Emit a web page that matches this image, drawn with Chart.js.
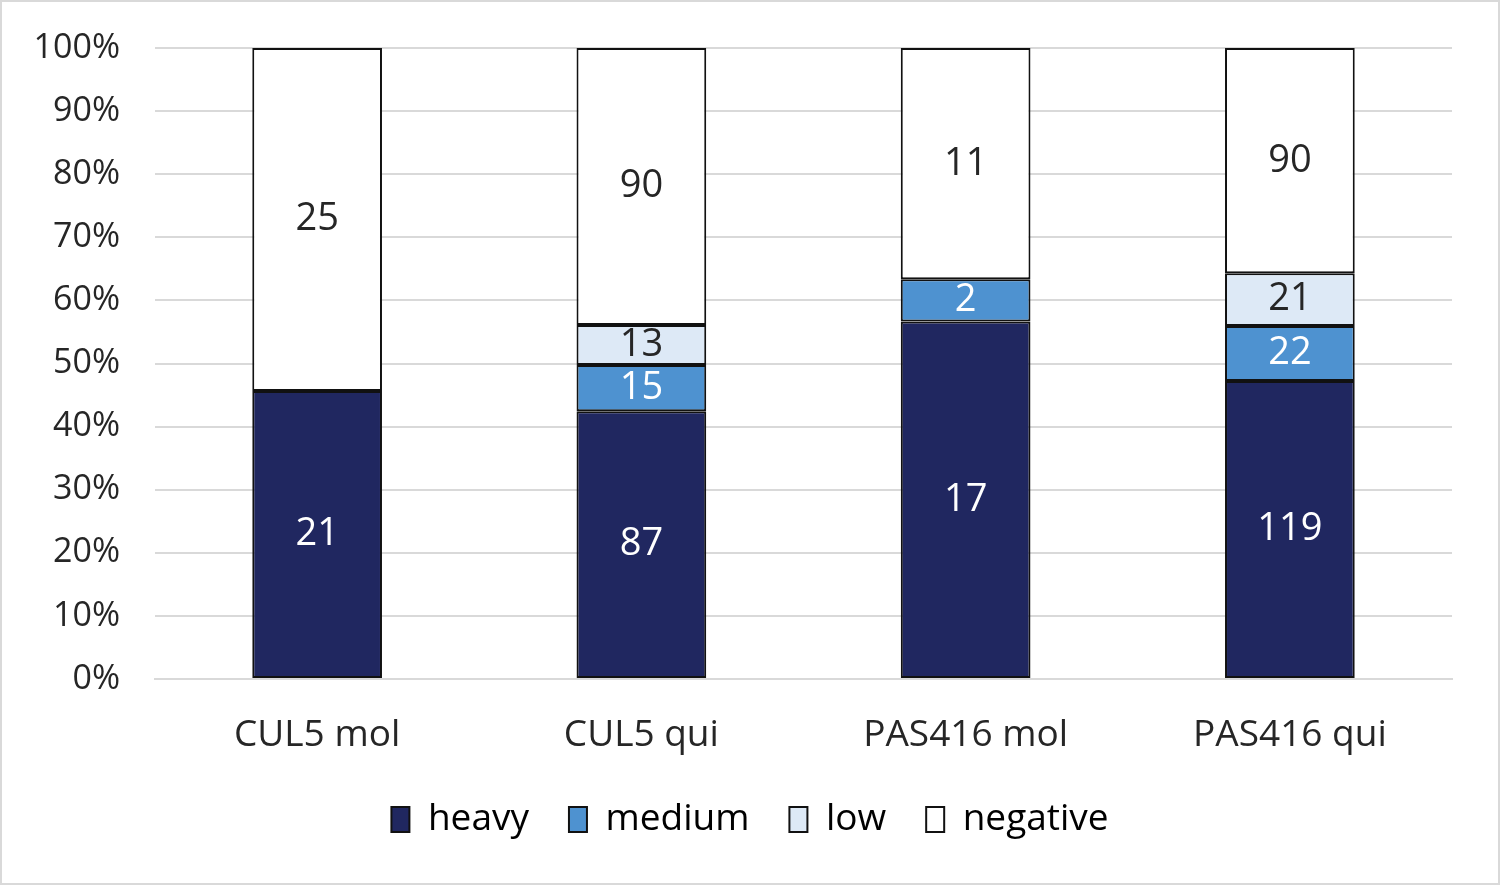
<!DOCTYPE html>
<html>
<head>
<meta charset="utf-8">
<script src="https://cdn.jsdelivr.net/npm/chart.js@4.4.0/dist/chart.umd.min.js"></script>
<style>
  html, body { margin: 0; padding: 0; background: #fff; }
  #wrap { position: relative; width: 1500px; height: 885px; box-sizing: border-box; border: 2px solid #d9d9d9; }
</style>
</head>
<body>
<div id="wrap"><canvas id="chart"></canvas></div>
<script>
// 类别与计数
const categories = ['CUL5 mol', 'CUL5 qui', 'PAS416 mol', 'PAS416 qui'];
const heavy = [21, 87, 17, 119];
const medium = [0, 15, 2, 22];
const low = [0, 13, 0, 21];
const negative = [25, 90, 11, 90];
const yTicks = [0, 10, 20, 30, 40, 50, 60, 70, 80, 90, 100];

const FONT = '"Open Sans", "DejaVu Sans", sans-serif';

const totals = categories.map((c, i) => heavy[i] + medium[i] + low[i] + negative[i]);

function toPercent(counts) {
    return counts.map((v, i) => v === 0 ? null : v / totals[i] * 100);
}

const seriesDefs = [
    { label: 'heavy', counts: heavy, color: '#202760', text: '#ffffff' },
    { label: 'medium', counts: medium, color: '#4e92d0', text: '#ffffff' },
    { label: 'low', counts: low, color: '#dde9f6', text: '#262626' },
    { label: 'negative', counts: negative, color: '#ffffff', text: '#262626' }
];

/**
 * 在每段柱子中心画计数标签
 */
const segmentLabels = {
    id: 'segmentLabels',
    afterDatasetsDraw(chart) {
        const ctx = chart.ctx;
        ctx.save();
        ctx.font = '38px ' + FONT;
        ctx.textAlign = 'center';
        ctx.textBaseline = 'middle';
        chart.data.datasets.forEach((ds, di) => {
            const meta = chart.getDatasetMeta(di);
            meta.data.forEach((bar, i) => {
                const count = seriesDefs[di].counts[i];
                if (!count) return;
                const mid = (bar.y + bar.base) / 2;
                ctx.fillStyle = seriesDefs[di].text;
                ctx.fillText(String(count), bar.x, mid);
            });
        });
        ctx.restore();
    }
};

/**
 * 图例居中于整个画布
 */
const centerLegend = {
    id: 'centerLegend',
    afterLayout(chart) {
        const lg = chart.legend;
        if (!lg) return;
        const shift = 23;
        lg.left += shift;
        lg.right += shift;
    }
};

const chart = new Chart(document.getElementById('chart'), {
    type: 'bar',
    data: {
        labels: categories,
        datasets: seriesDefs.map(s => ({
            label: s.label,
            data: toPercent(s.counts),
            backgroundColor: s.color,
            borderColor: '#111111',
            borderWidth: 2,
            borderSkipped: false,
            barPercentage: 0.4,
            categoryPercentage: 1.0
        }))
    },
    options: {
        responsive: true,
        maintainAspectRatio: false,
        animation: false,
        layout: { padding: { top: 46, right: 46, bottom: 35, left: 0 } },
        plugins: {
            legend: {
                position: 'bottom',
                labels: {
                    color: '#000000',
                    font: { family: FONT, size: 37 },
                    boxWidth: 18,
                    boxHeight: 25,
                    padding: 40
                }
            },
            tooltip: { enabled: false }
        },
        scales: {
            x: {
                stacked: true,
                grid: { display: false },
                border: { color: '#d9d9d9', width: 2 },
                ticks: {
                    color: '#262626',
                    font: { family: FONT, size: 37 },
                    padding: 26
                },
                afterFit(scale) { scale.height = 82; }
            },
            y: {
                stacked: true,
                min: 0,
                max: 100,
                afterBuildTicks(scale) {
                    scale.ticks = yTicks.map(v => ({ value: v }));
                },
                grid: { color: '#d9d9d9', lineWidth: 2, drawTicks: false },
                border: { display: false },
                ticks: {
                    color: '#262626',
                    font: { family: FONT, size: 34 },
                    padding: 35,
                    callback: v => v + '%'
                },
                afterFit(scale) {
                    scale.width = 153;
                    scale.paddingTop = 0;
                    scale.paddingBottom = 0;
                }
            }
        }
    },
    plugins: [segmentLabels, centerLegend]
});
</script>
</body>
</html>
